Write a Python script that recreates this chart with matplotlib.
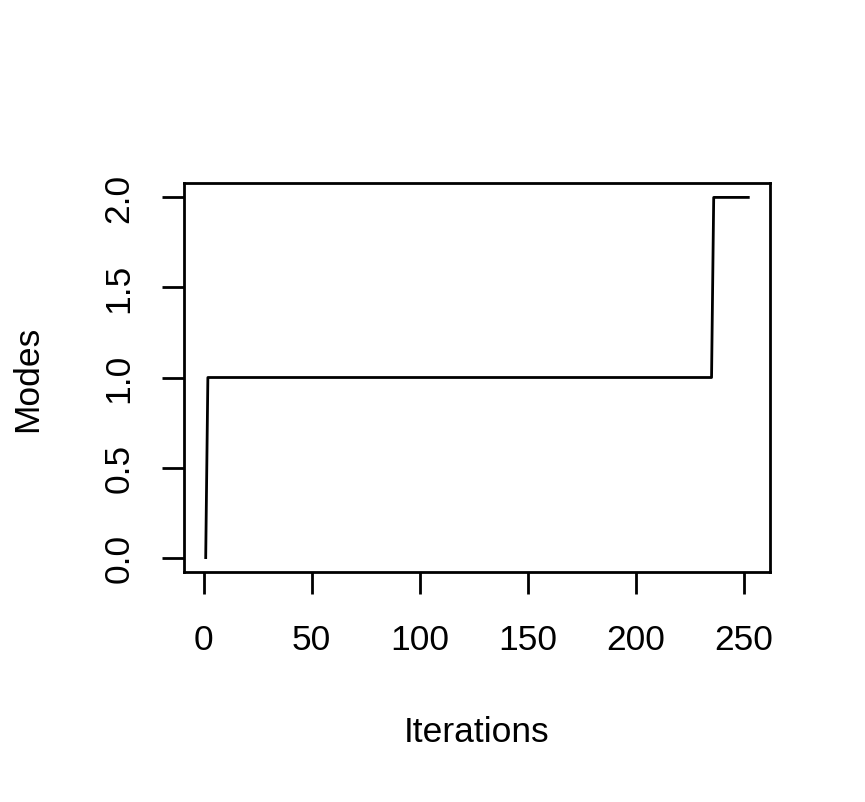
import matplotlib
matplotlib.use("Agg")
import matplotlib.pyplot as plt

# Number of modes found per iteration (corner points of the step trace)
iterations = [1, 2, 235, 236, 252]
modes = [0, 1, 1, 2, 2]

xticks = [0, 50, 100, 150, 200, 250]
yticks = [0.0, 0.5, 1.0, 1.5, 2.0]

plt.rcParams['font.family'] = ['Liberation Sans', 'DejaVu Sans']

fig = plt.figure(figsize=(8.65, 8.03), dpi=100)
ax = fig.add_axes([184 / 865, 1 - 573 / 803, 586 / 865, 389 / 803])

ax.plot(iterations, modes, color='black', linewidth=2)
ax.margins(x=0.04, y=0.04)

ax.set_xticks(xticks)
ax.set_xticklabels([str(t) for t in xticks])
ax.set_yticks(yticks)
ax.set_yticklabels([f"{t:.1f}" for t in yticks], rotation=90, va='center')

ax.tick_params(direction='out', length=16, width=2, labelsize=25.5, pad=21)
ax.tick_params(axis='y', pad=19)
for s in ax.spines.values():
    s.set_linewidth(2)

ax.set_xlabel('Iterations', fontsize=25.5)
ax.set_ylabel('Modes', fontsize=25.5)
ax.xaxis.set_label_coords(0.5, -0.41)
ax.xaxis.label.set_va('center')
ax.yaxis.set_label_coords(-0.266, 0.5)
ax.yaxis.label.set_va('center')

fig.savefig('out.png', dpi=100)
